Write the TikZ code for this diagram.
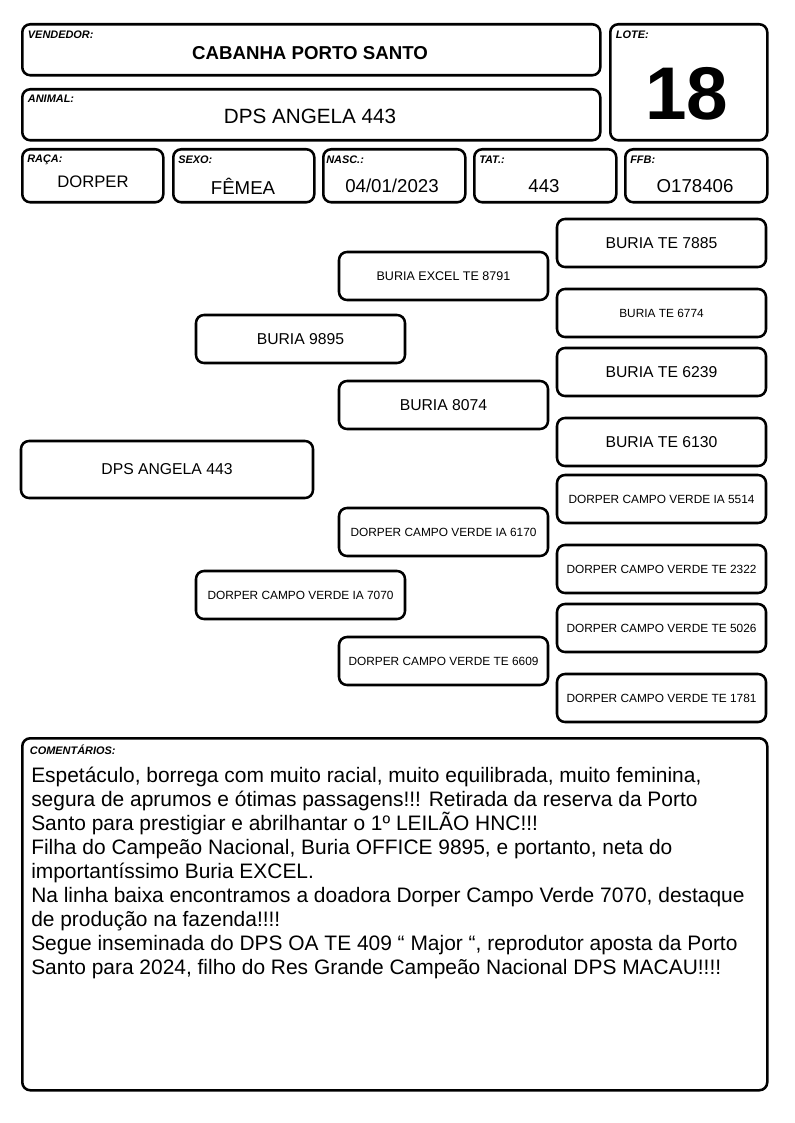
\documentclass[tikz,border=0pt]{standalone}
\usepackage{fontspec}
\setmainfont{Liberation Sans}
\usetikzlibrary{positioning}

\begin{document}
\begin{tikzpicture}[x=0.75pt,y=-0.75pt]
\tikzstyle{every node}+=[inner sep=0pt]
\tikzstyle{card}=[draw, line width=1.9pt, rounded corners=6pt, anchor=north west]
\tikzstyle{tag}=[font=\fontsize{8.2}{9}\selectfont\bfseries\itshape]
\tikzstyle{pbox}=[draw, line width=1.9pt, rounded corners=6pt, minimum width=156.75pt, minimum height=36pt]
\tikzstyle{big}=[font=\fontsize{11.8}{13}\selectfont]
\tikzstyle{small}=[font=\fontsize{8.9}{10}\selectfont]
\useasboundingbox (0,0) rectangle (794,1123);
% header
\node[card, minimum width=433.5pt, minimum height=38.25pt] (vendbox) at (21,23) {};
\node[tag, below right=5.5pt and 5pt of vendbox.north west] (vendtag) {VENDEDOR:};
\node[font=\fontsize{14}{16}\selectfont\bfseries] (vendval) at (310,53) {CABANHA PORTO SANTO};
\node[card, minimum width=433.5pt, minimum height=38.25pt] (anibox) at (21,88) {};
\node[tag, below right=5pt and 5pt of anibox.north west] (anitag) {ANIMAL:};
\node[font=\fontsize{15.5}{17}\selectfont] (anival) at (310,116) {DPS ANGELA 443};
\node[card, minimum width=117.75pt, minimum height=87pt] (lotebox) at (609,23) {};
\node[tag, below right=5.5pt and 5pt of lotebox.north west] (lotetag) {LOTE:};
\node[font=\fontsize{56}{56}\selectfont\bfseries] (loteval) at (687,94) {18};
\node[card, minimum width=105.75pt, minimum height=39.75pt] (racabox) at (21,148) {};
\node[tag, below right=5pt and 4.5pt of racabox.north west] (racatag) {RAÇA:};
\node[font=\fontsize{12.5}{14}\selectfont] (racaval) at (93,182) {DORPER};
\node[card, minimum width=105.75pt, minimum height=39.75pt] (sexobox) at (172,148) {};
\node[tag, below right=6pt and 4.5pt of sexobox.north west] (sexotag) {SEXO:};
\node[font=\fontsize{14}{16}\selectfont] (sexoval) at (243,186) {FÊMEA};
\node[card, minimum width=106.5pt, minimum height=39.75pt] (nascbox) at (322,148) {};
\node[tag, below right=6pt and 3pt of nascbox.north west] (nasctag) {NASC.:};
\node[font=\fontsize{14}{16}\selectfont] (nascval) at (392,186) {04/01/2023};
\node[card, minimum width=106.5pt, minimum height=39.75pt] (tatbox) at (473,148) {};
\node[tag, below right=6pt and 4.5pt of tatbox.north west] (tattag) {TAT.:};
\node[font=\fontsize{14}{16}\selectfont] (tatval) at (544,186) {443};
\node[card, minimum width=106.5pt, minimum height=39.75pt] (ffbbox) at (624,148) {};
\node[tag, below right=6pt and 4.5pt of ffbbox.north west] (ffbtag) {FFB:};
\node[font=\fontsize{14}{16}\selectfont] (ffbval) at (695,186) {O178406};
% pedigree
\node[pbox, big, minimum width=219pt, minimum height=42.75pt] (ani) at (167,469.5) {DPS ANGELA 443};
\node[pbox, big] (p) at (300.5,339) {BURIA 9895};
\node[pbox, small] (m) at (300.5,595) {DORPER CAMPO VERDE IA 7070};
\node[pbox, font=\fontsize{9.4}{10}\selectfont] (pp) at (443.5,276) {BURIA EXCEL TE 8791};
\node[pbox, big] (pm) at (443.5,405) {BURIA 8074};
\node[pbox, small] (mp) at (443.5,532) {DORPER CAMPO VERDE IA 6170};
\node[pbox, small] (mm) at (443.5,661) {DORPER CAMPO VERDE TE 6609};
\node[pbox, big] (ppp) at (661.5,243) {BURIA TE 7885};
\node[pbox, small] (ppm) at (661.5,313) {BURIA TE 6774};
\node[pbox, big] (pmp) at (661.5,372) {BURIA TE 6239};
\node[pbox, big] (pmm) at (661.5,442) {BURIA TE 6130};
\node[pbox, small] (mpp) at (661.5,499) {DORPER CAMPO VERDE IA 5514};
\node[pbox, small] (mpm) at (661.5,569) {DORPER CAMPO VERDE TE 2322};
\node[pbox, small] (mmp) at (661.5,628) {DORPER CAMPO VERDE TE 5026};
\node[pbox, small] (mmm) at (661.5,698) {DORPER CAMPO VERDE TE 1781};
% comments
\node[card, minimum width=558.75pt, minimum height=264pt] (combox) at (21,737) {};
\node[tag, below right=6pt and 6.5pt of combox.north west] (comtag) {COMENTÁRIOS:};
\node[font=\fontsize{15.7}{18}\selectfont, align=left, anchor=north west] (comtext) at (31,767) {Espetáculo, borrega com muito racial, muito equilibrada, muito feminina,\\
segura de aprumos e ótimas passagens!!! Retirada da reserva da Porto\\
Santo para prestigiar e abrilhantar o 1º LEILÃO HNC!!!\\
Filha do Campeão Nacional, Buria OFFICE 9895, e portanto, neta do\\
importantíssimo Buria EXCEL.\\
Na linha baixa encontramos a doadora Dorper Campo Verde 7070, destaque\\
de produção na fazenda!!!!\\
Segue inseminada do DPS OA TE 409 “ Major “, reprodutor aposta da Porto\\
Santo para 2024, filho do Res Grande Campeão Nacional DPS MACAU!!!!};
\end{tikzpicture}
\end{document}
